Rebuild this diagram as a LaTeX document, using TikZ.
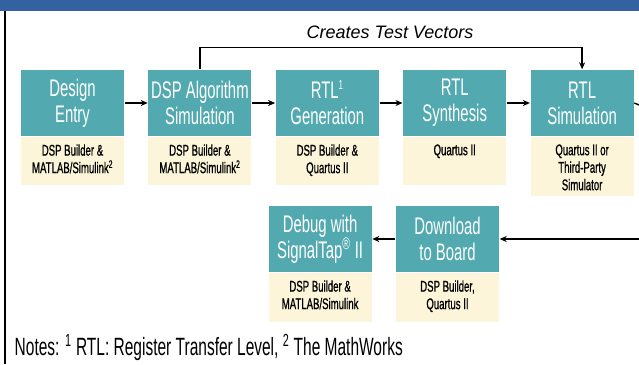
\documentclass[tikz,border=0pt]{standalone}
\usepackage{fontspec}
\setmainfont{Liberation Sans}[FakeStretch=0.62]
\newfontfamily\toolfont{Liberation Sans}[FakeStretch=0.62,FakeBold=0.8]
\newfontfamily\obliquefont{Liberation Sans}
\usetikzlibrary{arrows.meta,positioning}
\definecolor{stageteal}{HTML}{52AAB0}
\definecolor{toolcream}{HTML}{FCF5D9}
\definecolor{bandblue}{HTML}{3462A0}
\newcommand{\tooltext}[2]{\parbox[t][#1]{100pt}{\centering #2}}

\begin{document}
\begin{tikzpicture}[x=1pt,y=-1pt,>={Stealth[length=7pt,width=6pt]},line width=1.4pt,
  stage/.style={fill=stageteal,text=white,minimum width=103pt,minimum height=66pt,inner sep=0pt,align=center,font=\fontsize{24}{26}\selectfont},
  tool/.style={fill=toolcream,minimum width=103pt,inner xsep=1.5pt,inner ysep=7pt,font=\toolfont\fontsize{15.5}{17.5}\selectfont}]
\useasboundingbox (0,0) rectangle (639,364);
\fill[bandblue] (0,0) rectangle (639,10.5);
\draw[line width=1.5pt] (5,10.5) -- (5,364);
% top row
\node[stage] (entry) at (72.5,103) {Design\\Entry};
\node[stage,right=23pt of entry] (algsim) {DSP Algorithm\\Simulation};
\node[stage,right=23pt of algsim] (rtlgen) {RTL\textsuperscript{\fontsize{13}{13}\selectfont 1}\\Generation};
\node[stage,right=23pt of rtlgen] (synth) {RTL\\Synthesis};
\node[stage,right=23pt of synth] (rtlsim) {RTL\\Simulation};
\node[tool,below=0pt of entry] (entrytool) {\tooltext{34pt}{DSP Builder \&\\MATLAB/Simulink\textsuperscript{2}}};
\node[tool,below=0pt of algsim] (algsimtool) {\tooltext{34pt}{DSP Builder \&\\MATLAB/Simulink\textsuperscript{2}}};
\node[tool,below=0pt of rtlgen] (rtlgentool) {\tooltext{34pt}{DSP Builder \&\\Quartus II}};
\node[tool,below=0pt of synth] (synthtool) {\tooltext{34pt}{Quartus II}};
\node[tool,below=0pt of rtlsim] (rtlsimtool) {\tooltext{45pt}{Quartus II or\\Third-Party\\Simulator}};
% bottom row
\node[stage] (download) at (447.5,239) {Download\\to Board};
\node[stage,left=23pt of download] (debug) {Debug with\\SignalTap\textsuperscript{\textregistered} II};
\node[tool,below=0pt of download] (downloadtool) {\tooltext{35pt}{DSP Builder,\\Quartus II}};
\node[tool,below=0pt of debug] (debugtool) {\tooltext{35pt}{DSP Builder \&\\MATLAB/Simulink}};
\coordinate (rightout) at (639,105);
\coordinate (rightin) at (639,239);
\draw[->] (entry) -- (algsim);
\draw[->] (algsim) -- (rtlgen);
\draw[->] (rtlgen) -- (synth);
\draw[->] (synth) -- (rtlsim);
\draw (rtlsim.east) -- (rightout);
\draw[->] (rightin) -- (download.east);
\draw[->] (download) -- (debug);
\draw[->] (algsim.north) -- ++(0,-22) -| (rtlsim.north);
\node[font=\obliquefont\itshape\fontsize{18}{20}\selectfont] (vectors) at (390,32) {Creates Test Vectors};
\node[anchor=west,inner sep=0pt,font=\fontsize{25}{27}\selectfont] (notes) at (14,347) {Notes: \textsuperscript{1} RTL: Register Transfer Level, \textsuperscript{2} The MathWorks};
\end{tikzpicture}
\end{document}
